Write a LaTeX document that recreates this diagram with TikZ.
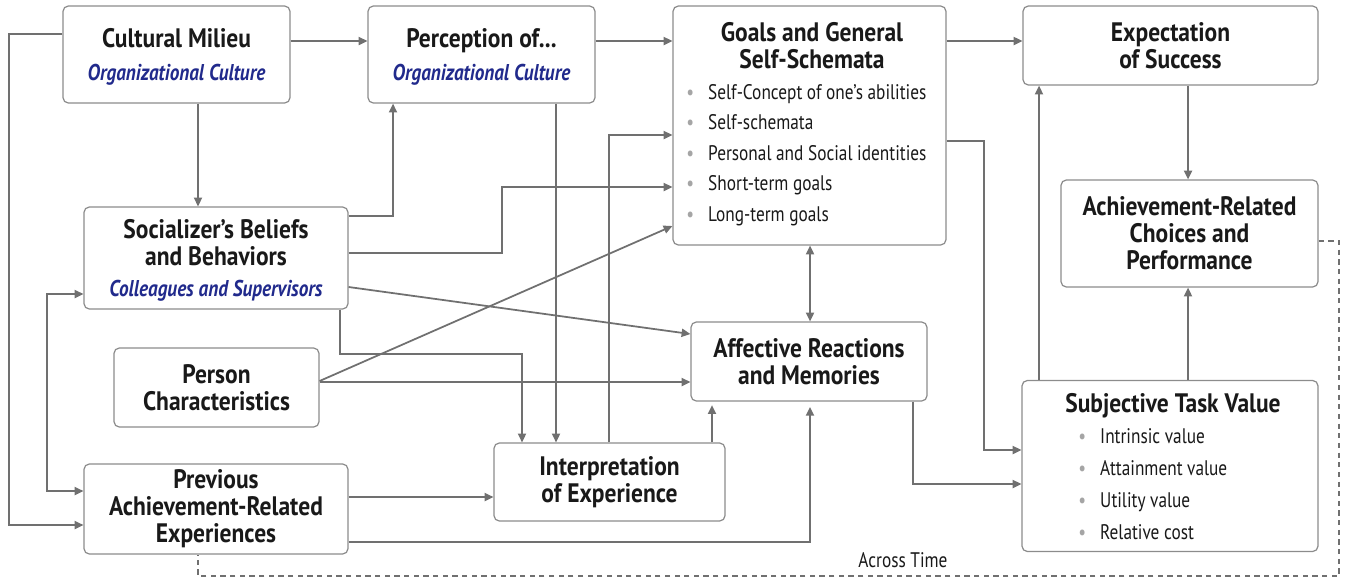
\documentclass[tikz,border=0pt]{standalone}
\usepackage{fontspec}
\setmainfont{PT Sans}
\newfontfamily\boxfont[FakeStretch=0.88]{PT Sans}
\newfontfamily\subfont[FakeStretch=0.84]{PT Sans}
\newfontfamily\listfont[FakeStretch=0.82]{PT Sans}
\usetikzlibrary{arrows.meta}
\definecolor{linegray}{RGB}{112,112,112}
\definecolor{boxgray}{RGB}{140,140,140}
\definecolor{subblue}{RGB}{33,42,140}
\definecolor{dotgray}{RGB}{165,165,165}
\definecolor{inkblack}{RGB}{25,25,25}
\newcommand{\subline}[1]{\raisebox{0pt}[\height][-3pt]{\subfont\bfseries\itshape\fontsize{13}{15}\selectfont\color{subblue}#1}}
\newcommand{\dotitem}{\textcolor{dotgray}{\textbullet}\hspace{8pt}}
\tikzset{
  box/.style={draw=boxgray, line width=0.7pt, rounded corners=3pt, fill=white, align=center,
    inner sep=0pt, text=inkblack, font=\boxfont\bfseries\fontsize{15.2}{15.3}\selectfont},
  head/.style={align=center, inner sep=0pt, text=inkblack, font=\boxfont\bfseries\fontsize{15.2}{15.3}\selectfont},
  item/.style={anchor=base west, inner sep=0pt, text=inkblack, font=\listfont\fontsize{12}{14}\selectfont},
  link/.style={draw=linegray, line width=1pt, -{Triangle[length=5pt,width=4.6pt]}},
  twoway/.style={link, {Triangle[length=5pt,width=4.6pt]}-{Triangle[length=5pt,width=4.6pt]}},
  across/.style={draw=linegray, line width=0.7pt, dash pattern=on 3pt off 2.5pt},
}
\begin{document}
\begin{tikzpicture}[x=0.02cm, y=-0.02cm]
  \useasboundingbox (0,0) rectangle (1346,579);
  % boxes
  \node[box, minimum width=4.54cm, minimum height=1.94cm] (cm) at (176.5,54.5)
    {Cultural Milieu\\[3pt]\subline{Organizational Culture}};
  \node[box, minimum width=4.54cm, minimum height=1.94cm] (po) at (481.5,54.5)
    {Perception of...\\[3pt]\subline{Organizational Culture}};
  \node[box, minimum width=5.46cm, minimum height=4.78cm] (gs) at (809.5,125.5) {};
  \node[head] (gshead) at (812,46) {Goals and General\\Self-Schemata};
  \foreach \txt [count=\i from 0] in {Self-Concept of one’s abilities, Self-schemata,
      Personal and Social identities, Short-term goals, Long-term goals}
    \node[item] (gsitem\i) at (686,{99+30.5*\i}) {\dotitem\txt};
  \node[box, minimum width=5.90cm, minimum height=1.58cm] (es) at (1170.5,45.5)
    {Expectation\\of Success};
  \node[box, minimum width=5.14cm, minimum height=2.14cm] (ac) at (1189.5,233.5)
    {Achievement-Related\\Choices and\\Performance};
  \node[box, minimum width=5.28cm, minimum height=2.04cm] (sb) at (216,258)
    {Socializer’s Beliefs\\and Behaviors\\[2pt]\subline{Colleagues and Supervisors}};
  \node[box, minimum width=4.10cm, minimum height=1.58cm] (pc) at (216.5,387.5)
    {Person\\Characteristics};
  \node[box, minimum width=5.28cm, minimum height=1.80cm] (pa) at (216,509)
    {Previous\\Achievement-Related\\Experiences};
  \node[box, minimum width=4.62cm, minimum height=1.56cm] (ie) at (609.5,482)
    {Interpretation\\of Experience};
  \node[box, minimum width=4.72cm, minimum height=1.58cm] (ar) at (809,361.5)
    {Affective Reactions\\and Memories};
  \node[box, minimum width=5.92cm, minimum height=3.42cm] (st) at (1170,466) {};
  \node[head] (sthead) at (1173,406) {Subjective Task Value};
  \foreach \txt [count=\i from 0] in {Intrinsic value, Attainment value, Utility value, Relative cost}
    \node[item] (stitem\i) at (1078,{443+32.3*\i}) {\dotitem\txt};

  % connectors
  \draw[link] (cm.west |- 0,34) -| (9,525) -- (pa.west |- 0,525);
  \draw[twoway] (sb.west |- 0,294) -- (47,294) -- (47,491) -- (pa.west |- 0,491);
  \draw[link] (cm.east |- 0,41) -- (po.west |- 0,41);
  \draw[link] (cm.south -| 198,0) -- (sb.north -| 198,0);
  \draw[link] (sb.east |- 0,216) -| (po.south -| 393,0);
  \draw[link] (po.east |- 0,41) -- (gs.west |- 0,41);
  \draw[link] (po.south -| 556,0) -- (ie.north -| 556,0);
  \draw[link] (sb.east |- 0,253) -| (502,187) -- (gs.west |- 0,187);
  \draw[link] (ie.north -| 609,0) |- (gs.west |- 0,135);
  \draw[link] (pc.east |- 0,381) -- (gs.west |- 0,226);
  \draw[link] (sb.east |- 0,287) -- (ar.west |- 0,334);
  \draw[link] (sb.south -| 340,0) |- (522,354) -- (ie.north -| 522,0);
  \draw[link] (pc.east |- 0,382) -- (ar.west |- 0,382);
  \draw[link, shorten >=2pt] (ie.north -| 712,0) -- (ar.south -| 712,0);
  \draw[link] (pa.east |- 0,497) -- (ie.west |- 0,497);
  \draw[link, shorten >=3pt] (pa.east |- 0,542) -| (ar.south -| 810,0);
  \draw[twoway] (gs.south -| 810,0) -- (ar.north -| 810,0);
  \draw[link] (gs.east |- 0,41) -- (es.west |- 0,41);
  \draw[link] (gs.east |- 0,141) -| (984,450) -- (st.west |- 0,450);
  \draw[link] (ar.south -| 913,0) |- (st.west |- 0,484);
  \draw[link] (st.north -| 1039,0) -- (es.south -| 1039,0);
  \draw[link] (es.south -| 1188,0) -- (ac.north -| 1188,0);
  \draw[link] (st.north -| 1188,0) -- (ac.south -| 1188,0);
  % feedback across time
  \draw[across] (ac.east |- 0,241) -| (1339,576) -| (pa.south -| 198,0);
  \node[item, anchor=base] (acrosstime) at (903,567) {Across Time};
\end{tikzpicture}
\end{document}
